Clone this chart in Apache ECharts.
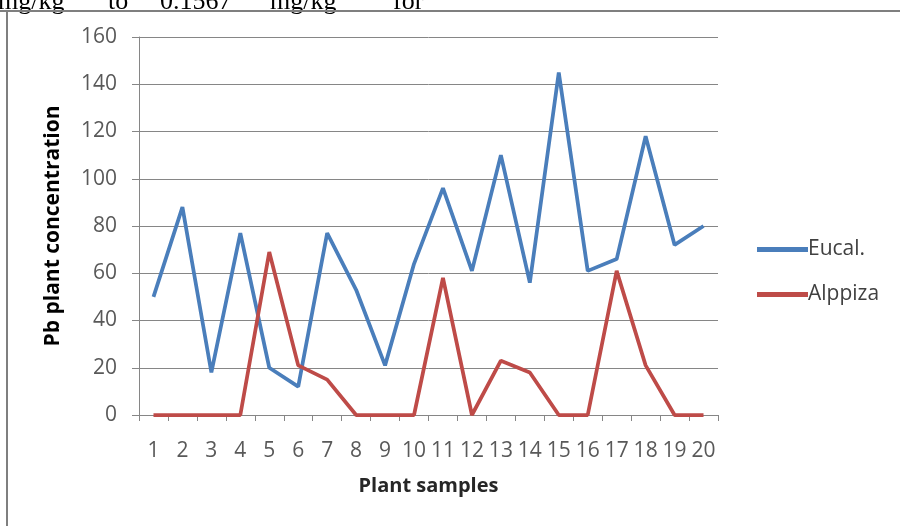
<!DOCTYPE html>
<html>
<head>
<meta charset="utf-8">
<script src="https://cdn.jsdelivr.net/npm/echarts@6/dist/echarts.min.js"></script>
<style>
html,body{margin:0;padding:0;background:#fff;}
#chart{width:900px;height:526px;}
</style>
</head>
<body>
<div id="chart"></div>
<script>
var categories = ['1','2','3','4','5','6','7','8','9','10','11','12','13','14','15','16','17','18','19','20'];
var eucal = [50, 88, 18, 77, 20, 12, 77, 53, 21, 64, 96, 61, 110, 56, 145, 61, 66, 118, 72, 80];
var alppiza = [0, 0, 0, 0, 69, 21, 15, 0, 0, 0, 58, 0, 23, 18, 0, 0, 61, 21, 0, 0];
var yTicks = [0, 20, 40, 60, 80, 100, 120, 140, 160];
var seriesNames = ['Eucal.', 'Alppiza'];
var topWords = ['mg/kg', 'to', '0.1567', 'mg/kg', 'for'];

var font = '"Open Sans", "Noto Sans", sans-serif';
var chart = echarts.init(document.getElementById('chart'), null, {renderer: 'canvas'});
var wordX = [-2, 108, 160, 270, 393];
var graphics = topWords.map(function (w, i) {
  return {type: 'text', left: wordX[i], top: -11,
    style: {text: w, fontFamily: '"Liberation Serif", "DejaVu Serif", serif', fontSize: 26, fill: '#000'}};
});
graphics.push({type: 'line', shape: {x1: 0, y1: 11, x2: 900, y2: 11}, style: {stroke: '#7f7f7f', lineWidth: 2}});
graphics.push({type: 'line', shape: {x1: 7, y1: 11, x2: 7, y2: 526}, style: {stroke: '#7f7f7f', lineWidth: 2}});

chart.setOption({
  animation: false,
  backgroundColor: '#fff',
  graphic: graphics,
  grid: {left: 139, right: 182, top: 37, bottom: 111, containLabel: false},
  legend: {
    orient: 'vertical', left: 757, top: 239, padding: 0, itemWidth: 51, itemHeight: 14, itemGap: 24,
    icon: 'path://M0,0 L10,0 L10,1 L0,1 Z',
    textStyle: {fontFamily: font, fontSize: 21, color: '#404040', padding: [0, 0, 0, -5]},
    data: seriesNames
  },
  xAxis: {
    type: 'category', data: categories, boundaryGap: true,
    name: 'Plant samples', nameLocation: 'middle', nameGap: 61,
    nameTextStyle: {fontFamily: font, fontSize: 20, fontWeight: 'bold', color: '#262626'},
    axisLine: {lineStyle: {color: '#868686', width: 1}},
    axisTick: {show: true, alignWithLabel: false, length: 6, lineStyle: {color: '#868686'}},
    axisLabel: {fontFamily: font, fontSize: 21, color: '#595959', margin: 26, interval: 0}
  },
  yAxis: {
    type: 'value', min: 0, max: 160, interval: 20,
    name: 'Pb plant concentration', nameLocation: 'middle', nameGap: 75,
    nameTextStyle: {fontFamily: font, fontSize: 21, fontWeight: 'bold', color: '#000'},
    axisLine: {show: true, lineStyle: {color: '#868686', width: 1}},
    axisTick: {show: true, length: 7, inside: false, lineStyle: {color: '#868686'}},
    axisLabel: {fontFamily: font, fontSize: 21, color: '#595959', margin: 22,
      formatter: function (v) { return yTicks.indexOf(v) >= 0 ? String(v) : ''; }},
    splitLine: {show: true, lineStyle: {color: '#868686', width: 1}}
  },
  series: [
    {name: seriesNames[0], type: 'line', data: eucal, symbol: 'none', lineStyle: {color: '#4A7EBB', width: 3.75}, itemStyle: {color: '#4A7EBB'}},
    {name: seriesNames[1], type: 'line', data: alppiza, symbol: 'none', lineStyle: {color: '#BE4B48', width: 3.75}, itemStyle: {color: '#BE4B48'}}
  ]
});
</script>
</body>
</html>
